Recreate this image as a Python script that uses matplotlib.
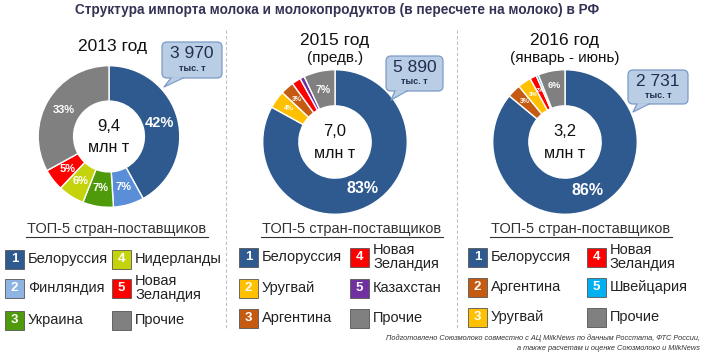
import numpy as np
import matplotlib.pyplot as plt
from matplotlib.patches import FancyBboxPatch, Polygon, Rectangle

plt.rcParams['font.family'] = ['Liberation Sans', 'DejaVu Sans']

W, H = 707, 359

title = 'Структура импорта молока и молокопродуктов (в пересчете на молоко) в РФ'
years = ['2013 год', '2015 год', '2016 год']
subtitles = ['', '(предв.)', '(январь - июнь)']
totals = ['9,4', '7,0', '3,2']
belarus_vol = ['3 970', '5 890', '2 731']

shares_2013 = [42, 7, 7, 6, 5, 33]
countries_2013 = ['Белоруссия', 'Финляндия', 'Украина', 'Нидерланды', 'Новая\nЗеландия', 'Прочие']
labels_2013 = ['42%', '7%', '7%', '6%', '5%', '33%']

shares_2015 = [83, 4, 3, 2, 1, 7]
countries_2015 = ['Белоруссия', 'Уругвай', 'Аргентина', 'Новая\nЗеландия', 'Казахстан', 'Прочие']
labels_2015 = ['83%', '4%', '3%', '', '', '7%']

shares_2016 = [86, 3, 3, 1.5, 0.5, 6]
countries_2016 = ['Белоруссия', 'Аргентина', 'Уругвай', 'Новая\nЗеландия', 'Швейцария', 'Прочие']
labels_2016 = ['86%', '3%', '3%', '2%', '', '6%']

footnote = ['Подготовлено Союзмолоко совместно с АЦ MilkNews по данным Росстата, ФТС России,',
            'а также расчетам и оценке Союзмолоко и MilkNews']

# colours per country
cmap = {
    'Белоруссия': '#2E5A8F', 'Финляндия': '#5B8ED8', 'Украина': '#4E9A0A',
    'Нидерланды': '#C5D30C', 'Новая\nЗеландия': '#FF0000', 'Прочие': '#808080',
    'Уругвай': '#FFC000', 'Аргентина': '#C55A11', 'Казахстан': '#7030A0',
    'Швейцария': '#00B0F0',
}
legend_cmap = dict(cmap, **{'Финляндия': '#8EB4E3'})

panels = [
    dict(shares=shares_2013, countries=countries_2013, labels=labels_2013,
         c=(109, 136.5), r=71.5, sizes=[10.5, 8, 8, 8, 8, 8],
         callout=(162, 42, 60, 36), tip=(164, 87),
         yt=47, legx=(5, 112), legy=(259, 288, 320), head=(117, 229)),
    dict(shares=shares_2015, countries=countries_2015, labels=labels_2015,
         c=(335, 142), r=73, sizes=[11.5, 5, 5, 5, 5, 7.5],
         callout=(386, 56, 57, 35), tip=(391, 100),
         yt=40, legx=(239, 350), legy=(257, 288, 318), head=(352, 229)),
    dict(shares=shares_2016, countries=countries_2016, labels=labels_2016,
         c=(565, 142), r=73, sizes=[11.5, 5, 4.3, 4.3, 4.3, 6.5],
         callout=(628, 70, 60, 34), tip=(633, 112),
         yt=40, legx=(468, 587), legy=(257, 287, 317), head=(581, 229)),
]

fig = plt.figure(figsize=(W / 100, H / 100), dpi=100)

# donuts
for p in panels:
    cx, cy = p['c']
    r = p['r']
    pax = fig.add_axes([(cx - r) / W, 1 - (cy + r) / H, 2 * r / W, 2 * r / H])
    wedges, _ = pax.pie(p['shares'], colors=[cmap[k] for k in p['countries']],
                        startangle=90, counterclock=False,
                        wedgeprops=dict(width=0.5, edgecolor='white', linewidth=1))
    pax.set_xlim(-1.01, 1.01)
    pax.set_ylim(-1.01, 1.01)
    for w, lab, fs in zip(wedges, p['labels'], p['sizes']):
        if not lab:
            continue
        ang = np.deg2rad((w.theta1 + w.theta2) / 2)
        rr = 0.74 if fs > 7 else 0.79
        pax.text(rr * np.cos(ang), rr * np.sin(ang), lab, ha='center', va='center',
                 color='white', fontsize=fs, fontweight='bold')

# overlay for texts
ax = fig.add_axes([0, 0, 1, 1])
ax.set_xlim(0, W)
ax.set_ylim(H, 0)
ax.axis('off')
ax.patch.set_alpha(0)

ax.text(337, 10, title, ha='center', va='center', fontsize=9.8, fontweight='bold', color='#333355')

for xs in (226, 457):
    ax.plot([xs, xs], [30, 330], color='#C0C0C0', lw=0.8, ls=(0, (3, 2)))

for i, p in enumerate(panels):
    cx, cy = p['c']
    if subtitles[i]:
        ax.text(cx, p['yt'], years[i], ha='center', va='center', fontsize=12.5, color='#111111')
        ax.text(cx, p['yt'] + 18, subtitles[i], ha='center', va='center', fontsize=11, color='#111111')
    else:
        ax.text(cx + 4, p['yt'], years[i], ha='center', va='center', fontsize=12.5, color='#111111')

    # centre text
    ax.text(cx, cy - 10, totals[i], ha='center', va='center', fontsize=12, color='#111111')
    ax.text(cx, cy + 11, 'млн т', ha='center', va='center', fontsize=11.5, color='#111111')

    # callout
    bx, by, bw, bh = p['callout']
    face, edge = '#B9CDE5', '#7B9BC6'
    ax.add_patch(FancyBboxPatch((bx, by), bw, bh, boxstyle='round,pad=0,rounding_size=5',
                                fc=face, ec=edge, lw=0.9, zorder=5))
    b0, b1 = bx + 9, bx + 21
    tx, ty = p['tip']
    ax.add_patch(Polygon([(b0, by + bh - 0.8), (b1, by + bh - 0.8), (tx, ty)],
                         closed=True, fc=face, ec='none', zorder=6))
    ax.plot([b0, tx, b1], [by + bh, ty, by + bh], color=edge, lw=0.9, zorder=6)
    ax.text(bx + bw / 2, by + bh * 0.33, belarus_vol[i], ha='center', va='center',
            fontsize=12.5, color='#1F2F4F', zorder=7)
    ax.text(bx + bw / 2, by + bh * 0.74, 'тыс. т', ha='center', va='center',
            fontsize=6.5, fontweight='bold', color='#1F2F4F', zorder=7)

    # legend header
    hx, hy = p['head']
    ax.text(hx, hy, 'ТОП-5 стран-поставщиков', ha='center', va='center',
            fontsize=10.5, color='#333333')
    ax.plot([hx - 91, hx + 91], [hy + 8, hy + 8], color='#333333', lw=0.8)

    # legend items: numbered 1..5 then "Прочие"
    for j, name in enumerate(p['countries']):
        col, row = divmod(j, 3)
        lx = p['legx'][col]
        ly = p['legy'][row]
        ax.add_patch(Rectangle((lx, ly - 9.5), 19, 19, fc=legend_cmap[name],
                               ec='#555555', lw=0.6))
        if name != 'Прочие':
            ax.text(lx + 9.5, ly, str(j + 1), ha='center', va='center', fontsize=9.5,
                    fontweight='bold', color='white')
        ax.text(lx + 23, ly, name, ha='left', va='center', fontsize=10.5,
                color='#222222', linespacing=1.0)

ax.text(700, 338, footnote[0], ha='right', va='center', fontsize=5.3, style='italic', color='#333333')
ax.text(700, 348, footnote[1], ha='right', va='center', fontsize=5.3, style='italic', color='#333333')

fig.savefig('out.png', dpi=100)
